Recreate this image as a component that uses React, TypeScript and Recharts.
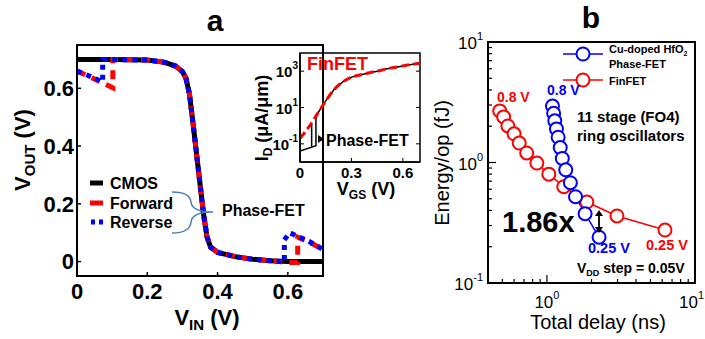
import React from 'react'
import { LineChart, Line, XAxis, YAxis, ReferenceArea } from 'recharts'

// panel a: inverter transfer curves (V)
const cmosVin = [0, 0.1, 0.2, 0.25, 0.28, 0.3, 0.31, 0.32, 0.33, 0.34, 0.35, 0.36, 0.37, 0.38, 0.4, 0.45, 0.5, 0.55, 0.6, 0.7]
const cmosVout = [0.7, 0.7, 0.698, 0.69, 0.677, 0.658, 0.635, 0.58, 0.48, 0.375, 0.27, 0.165, 0.085, 0.05, 0.032, 0.017, 0.008, 0.003, 0, 0]

const fwdVin = [0, 0.05, 0.102, 0.102, 0.2, 0.25, 0.28, 0.3, 0.31, 0.32, 0.33, 0.34, 0.35, 0.36, 0.37, 0.38, 0.4, 0.45, 0.5, 0.55, 0.6, 0.628, 0.628, 0.66, 0.7]
const fwdVout = [0.66, 0.632, 0.602, 0.7, 0.698, 0.69, 0.677, 0.658, 0.635, 0.58, 0.48, 0.375, 0.27, 0.165, 0.085, 0.05, 0.032, 0.017, 0.008, 0.003, -0.003, -0.003, 0.084, 0.068, 0.042]

const revVin = [0, 0.04, 0.073, 0.073, 0.2, 0.25, 0.28, 0.3, 0.31, 0.32, 0.33, 0.34, 0.35, 0.36, 0.37, 0.38, 0.4, 0.45, 0.5, 0.55, 0.59, 0.59, 0.605, 0.66, 0.7]
const revVout = [0.66, 0.64, 0.622, 0.7, 0.698, 0.69, 0.677, 0.658, 0.635, 0.58, 0.48, 0.375, 0.27, 0.165, 0.085, 0.05, 0.032, 0.017, 0.008, 0.003, -0.002, 0.075, 0.1, 0.07, 0.042]

const vinTicks = [0, 0.2, 0.4, 0.6]
const voutTicks = [0, 0.2, 0.4, 0.6]

// inset: Id-Vgs (uA/um)
const finfetVgs = [0, 0.05, 0.1, 0.15, 0.2, 0.25, 0.3, 0.35, 0.4, 0.45, 0.5, 0.55, 0.6, 0.65, 0.7]
const finfetId = [0.2, 0.8, 4.3, 23, 100, 260, 470, 620, 800, 1000, 1300, 1600, 1950, 2350, 2700]
const pfetFwdVgs = [0, 0.093, 0.093, 0.1, 0.15, 0.2, 0.25, 0.3, 0.35, 0.4, 0.45, 0.5, 0.55, 0.6, 0.65, 0.7]
const pfetFwdId = [0.04, 0.08, 2.2, 4.3, 23, 100, 260, 470, 620, 800, 1000, 1300, 1600, 1950, 2350, 2700]
const pfetRevVgs = [0.068, 0.068]
const pfetRevId = [0.07, 1.25]
const vgsTicks = [0, 0.3, 0.6]
const idTicks = [0.1, 10, 1000]

// panel b: ring oscillator energy vs delay, 0.8 V -> 0.25 V
const finfetDelay = [0.48, 0.51, 0.545, 0.6, 0.65, 0.73, 0.855, 1.03, 1.3, 1.86, 2.97, 6.27]
const finfetEnergy = [2.68, 2.39, 2.01, 1.73, 1.45, 1.2, 0.99, 0.8, 0.63, 0.47, 0.36, 0.275]
const pfetDelay = [1.09, 1.11, 1.13, 1.16, 1.19, 1.23, 1.27, 1.34, 1.44, 1.56, 1.81, 2.25]
const pfetEnergy = [2.94, 2.56, 2.22, 1.9, 1.62, 1.33, 1.08, 0.87, 0.68, 0.52, 0.376, 0.24]
const delayTicks = [0.4, 0.5, 0.6, 0.7, 0.8, 0.9, 1, 2, 3, 4, 5, 6, 7, 8, 9, 10]
const energyTicks = [0.1, 0.2, 0.3, 0.4, 0.5, 0.6, 0.7, 0.8, 0.9, 1, 2, 3, 4, 5, 6, 7, 8, 9, 10]

const zip = (xs: number[], ys: number[]) => xs.map((x, i) => ({ x, y: ys[i] }))

const RED = '#ff0000'
const BLUE = '#0000ff'

const isPow10 = (v: number) => Math.abs(Math.log10(v) - Math.round(Math.log10(v))) < 1e-6

function LinLeftTick(props: any) {
  const { x, y, payload } = props
  return (
    <g>
      <line x1={x} x2={x + 4} y1={y} y2={y} stroke="#000" strokeWidth={1.5} />
      <text x={x - 3} y={y} dy="0.36em" textAnchor="end" fontSize={22} fontWeight="bold" fill="#000">
        {payload.value}
      </text>
    </g>
  )
}

function LinBottomTick(props: any) {
  const { x, y, payload } = props
  return (
    <g>
      <line x1={x} x2={x} y1={y} y2={y - 4} stroke="#000" strokeWidth={1.5} />
      <text x={x} y={y + 23} textAnchor="middle" fontSize={22} fontWeight="bold" fill="#000">
        {payload.value}
      </text>
    </g>
  )
}

function InsetLeftTick(props: any) {
  const { x, y, payload } = props
  const e = Math.round(Math.log10(payload.value))
  return (
    <g>
      <line x1={x} x2={x + 4} y1={y} y2={y} stroke="#000" strokeWidth={1} />
      <line x1={x + 120} x2={x + 116} y1={y} y2={y} stroke="#000" strokeWidth={1} />
      <text x={x - 2} y={y + 6} textAnchor="end" fontSize={15} fontWeight="bold" fill="#000">
        10<tspan dy={-8} fontSize={10}>{e}</tspan>
      </text>
    </g>
  )
}

function InsetBottomTick(props: any) {
  const { x, y, payload } = props
  return (
    <g>
      <line x1={x} x2={x} y1={y} y2={y - 4} stroke="#000" strokeWidth={1} />
      <text x={x} y={y + 16} textAnchor="middle" fontSize={15} fontWeight="bold" fill="#000">
        {payload.value}
      </text>
    </g>
  )
}

function LogLeftTick(props: any) {
  const { x, y, payload } = props
  const major = isPow10(payload.value)
  const e = Math.round(Math.log10(payload.value))
  return (
    <g>
      <line x1={x} x2={x + (major ? 8 : 4)} y1={y} y2={y} stroke="#000" strokeWidth={1.2} />
      {major && (
        <text x={x - 5} y={y + 7} textAnchor="end" fontSize={17} fill="#000">
          10<tspan dy={-9} fontSize={11}>{e}</tspan>
        </text>
      )}
    </g>
  )
}

function LogBottomTick(props: any) {
  const { x, y, payload } = props
  const major = isPow10(payload.value)
  const e = Math.round(Math.log10(payload.value))
  // the last label sits at the page edge, so pull it inside
  const last = payload.value === delayTicks[delayTicks.length - 1]
  return (
    <g>
      <line x1={x} x2={x} y1={y} y2={y - (major ? 8 : 4)} stroke="#000" strokeWidth={1.2} />
      {major && (
        <text x={last ? x + 9 : x} y={y + 25} textAnchor={last ? 'end' : 'middle'} fontSize={17} fill="#000">
          10<tspan dy={-9} fontSize={11}>{e}</tspan>
        </text>
      )}
    </g>
  )
}

function Overlay() {
  return (
    <svg width={705} height={339} style={{ position: 'absolute', left: 0, top: 0, pointerEvents: 'none' }}>
      {/* panel titles */}
      <text x={215} y={31} textAnchor="middle" fontSize={30} fontWeight="bold">a</text>
      <text x={591} y={28} textAnchor="middle" fontSize={30} fontWeight="bold">b</text>

      {/* panel a axis labels */}
      <text transform="translate(30,150) rotate(-90)" textAnchor="middle" fontSize={22} fontWeight="bold">
        V<tspan fontSize={15} dy={5}>OUT</tspan><tspan dy={-5}> (V)</tspan>
      </text>
      <text x={207} y={325} textAnchor="middle" fontSize={22} fontWeight="bold">
        V<tspan fontSize={15} dy={5}>IN</tspan><tspan dy={-5}> (V)</tspan>
      </text>

      {/* panel a legend */}
      <line x1={90} x2={103} y1={183} y2={183} stroke="#000" strokeWidth={5} />
      <line x1={90} x2={103} y1={203} y2={203} stroke={RED} strokeWidth={5} />
      <line x1={91} x2={104} y1={222} y2={222} stroke={BLUE} strokeWidth={5} strokeDasharray="4 4" />
      <text x={110} y={189} fontSize={16} fontWeight="bold">CMOS</text>
      <text x={110} y={209} fontSize={16} fontWeight="bold">Forward</text>
      <text x={110} y={228} fontSize={16} fontWeight="bold">Reverse</text>
      <path d="M172,192 Q190,192 191,202 Q192,212 213,212 M213,212 Q192,212 191,222 Q190,233 172,233"
        fill="none" stroke="#4a7ebb" strokeWidth={1.5} />
      <text x={222} y={216} fontSize={16} fontWeight="bold">Phase-FET</text>

      {/* inset labels */}
      <text x={307} y={70} fontSize={18} fontWeight="bold" fill={RED}>FinFET</text>
      <polygon points="318,135 324,139 318,143" fill="#000" />
      <text x={326} y={146} fontSize={16} fontWeight="bold">Phase-FET</text>
      <text transform="translate(268,118) rotate(-90)" textAnchor="middle" fontSize={18} fontWeight="bold">
        I<tspan fontSize={12} dy={4}>D</tspan><tspan dy={-4}> (μA/μm)</tspan>
      </text>
      <text x={366} y={195} textAnchor="middle" fontSize={18} fontWeight="bold">
        V<tspan fontSize={12} dy={4}>GS</tspan><tspan dy={-4}> (V)</tspan>
      </text>

      {/* panel b axis labels */}
      <text transform="translate(449,163) rotate(-90)" textAnchor="middle" fontSize={20}>Energy/op (fJ)</text>
      <text x={598} y={329} textAnchor="middle" fontSize={20}>Total delay (ns)</text>

      {/* panel b legend */}
      <line x1={563} x2={603} y1={54} y2={54} stroke={BLUE} strokeWidth={1.5} />
      <circle cx={583} cy={54} r={6.5} fill="#fff" stroke={BLUE} strokeWidth={2} />
      <line x1={563} x2={603} y1={80} y2={80} stroke={RED} strokeWidth={1.5} />
      <circle cx={583} cy={80} r={6.5} fill="#fff" stroke={RED} strokeWidth={2} />
      <text x={609} y={53} fontSize={11} fontWeight="bold">Cu-doped HfO<tspan fontSize={7} dy={3}>2</tspan></text>
      <text x={609} y={68} fontSize={11} fontWeight="bold">Phase-FET</text>
      <text x={609} y={85} fontSize={11} fontWeight="bold">FinFET</text>

      {/* panel b annotations */}
      <text x={497} y={102} fontSize={14} fontWeight="bold" fill={RED}>0.8 V</text>
      <text x={547} y={95} fontSize={14} fontWeight="bold" fill={BLUE}>0.8 V</text>
      <text x={577} y={122} fontSize={15} fontWeight="bold">11 stage (FO4)</text>
      <text x={577} y={141} fontSize={15} fontWeight="bold">ring oscillators</text>
      <text x={502} y={232} fontSize={29} fontWeight="bold">1.86x</text>
      <line x1={599} x2={599} y1={214} y2={229} stroke="#000" strokeWidth={1.8} />
      <polygon points="595,216 603,216 599,210" fill="#000" />
      <polygon points="595,227 603,227 599,233" fill="#000" />
      <text x={588} y={253} fontSize={14.5} fontWeight="bold" fill={BLUE}>0.25 V</text>
      <text x={646} y={250} fontSize={14.5} fontWeight="bold" fill={RED}>0.25 V</text>
      <text x={577} y={273} fontSize={14} fontWeight="bold">
        V<tspan fontSize={9} dy={3}>DD</tspan><tspan dy={-3}> step = 0.05V</tspan>
      </text>
    </svg>
  )
}

export default function App() {
  return (
    <div style={{ position: 'absolute', left: 0, top: 0, width: 705, height: 339, background: '#fff', fontFamily: '"Liberation Sans", Arial, sans-serif', overflow: 'hidden' }}>
      {/* panel a */}
      <div style={{ position: 'absolute', left: 0, top: 0 }}>
        <LineChart width={340} height={339} margin={{ top: 45, right: 17, bottom: 33, left: 17 }}>
          <XAxis type="number" dataKey="x" domain={[0, 0.7]} ticks={vinTicks} interval={0} allowDataOverflow
            height={30} tickSize={0} tickMargin={0} tickLine={false} tick={LinBottomTick} stroke="#000" strokeWidth={2} />
          <YAxis type="number" domain={[-0.05, 0.75]} ticks={voutTicks} interval={0} allowDataOverflow
            width={60} tickSize={0} tickMargin={0} tickLine={false} tick={LinLeftTick} stroke="#000" strokeWidth={2} />
          <ReferenceArea x1={0} x2={0.7} y1={-0.05} y2={0.75} fill="none" fillOpacity={0} stroke="#000" strokeWidth={2} />
          <Line data={zip(cmosVin, cmosVout)} dataKey="y" type="linear" stroke="#000" strokeWidth={5} dot={false} isAnimationActive={false} />
          <Line data={zip(fwdVin, fwdVout)} dataKey="y" type="linear" stroke={RED} strokeWidth={5} strokeDasharray="9 7" dot={false} isAnimationActive={false} />
          <Line data={zip(revVin, revVout)} dataKey="y" type="linear" stroke={BLUE} strokeWidth={5} strokeDasharray="5 5" dot={false} isAnimationActive={false} />
        </LineChart>
      </div>

      {/* inset */}
      <div style={{ position: 'absolute', left: 240, top: 0 }}>
        <LineChart width={200} height={220} margin={{ top: 53, right: 20, bottom: 28, left: 20 }}>
          <XAxis type="number" dataKey="x" domain={[0, 0.7]} ticks={vgsTicks} interval={0} allowDataOverflow
            height={30} tickSize={0} tickMargin={0} tickLine={false} tick={InsetBottomTick} stroke="#000" strokeWidth={1.5} />
          <YAxis type="number" scale="log" domain={[0.01, 10000]} ticks={idTicks} interval={0} allowDataOverflow
            width={40} tickSize={0} tickMargin={0} tickLine={false} tick={InsetLeftTick} stroke="#000" strokeWidth={1.5} />
          <ReferenceArea x1={0} x2={0.7} y1={0.01} y2={10000} fill="none" fillOpacity={0} stroke="#000" strokeWidth={1.5} />
          <Line data={zip(pfetFwdVgs, pfetFwdId)} dataKey="y" type="linear" stroke="#000" strokeWidth={1.5} dot={false} isAnimationActive={false} />
          <Line data={zip(pfetRevVgs, pfetRevId)} dataKey="y" type="linear" stroke="#000" strokeWidth={1.5} dot={false} isAnimationActive={false} />
          <Line data={zip(finfetVgs, finfetId)} dataKey="y" type="monotone" stroke={RED} strokeWidth={3} strokeDasharray="8 4" dot={false} isAnimationActive={false} />
        </LineChart>
      </div>

      {/* panel b */}
      <div style={{ position: 'absolute', left: 420, top: 0 }}>
        <LineChart width={285} height={339} margin={{ top: 42, right: 10, bottom: 26, left: 18 }}>
          <XAxis type="number" dataKey="x" scale="log" domain={[0.4, 10]} ticks={delayTicks} interval={0} allowDataOverflow
            height={30} tickSize={0} tickMargin={0} tickLine={false} tick={LogBottomTick} stroke="#000" strokeWidth={2} />
          <YAxis type="number" scale="log" domain={[0.1, 10]} ticks={energyTicks} interval={0} allowDataOverflow
            width={50} tickSize={0} tickMargin={0} tickLine={false} tick={LogLeftTick} stroke="#000" strokeWidth={2} />
          <ReferenceArea x1={0.4} x2={10} y1={0.1} y2={10} fill="none" fillOpacity={0} stroke="#000" strokeWidth={2} />
          <Line data={zip(finfetDelay, finfetEnergy)} dataKey="y" type="linear" stroke={RED} strokeWidth={1.5}
            dot={{ r: 6.5, stroke: RED, strokeWidth: 2, fill: '#fff' }} isAnimationActive={false} />
          <Line data={zip(pfetDelay, pfetEnergy)} dataKey="y" type="linear" stroke={BLUE} strokeWidth={1.5}
            dot={{ r: 6.5, stroke: BLUE, strokeWidth: 2, fill: '#fff' }} isAnimationActive={false} />
        </LineChart>
      </div>

      <Overlay />
    </div>
  )
}
